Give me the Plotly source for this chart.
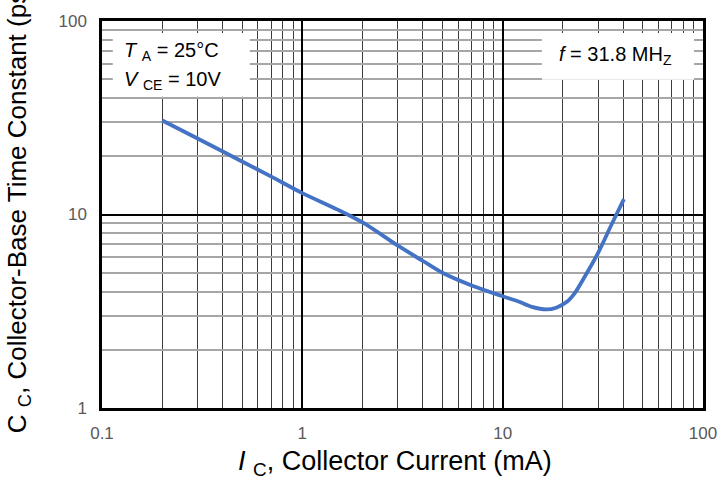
import plotly.graph_objects as go

# Collector current (mA) and collector-base time constant (ps)
ic_ma = [0.2, 0.3, 0.5, 0.7, 1.0, 1.5, 2.0, 3.0, 4.0, 5.0, 7.0, 10.0, 12.0, 14.0, 16.5, 18.5, 21.0, 23.0, 25.0, 30.0, 35.0, 40.3]
cc_ps = [30.6, 24.7, 18.8, 15.7, 12.9, 10.6, 9.1, 6.9, 5.75, 5.0, 4.3, 3.78, 3.55, 3.33, 3.23, 3.3, 3.55, 3.95, 4.55, 6.35, 8.9, 12.0]

x_ticks = [0.1, 1, 10, 100]
x_tick_text = ["0.1", "1", "10", "100"]
y_ticks = [1, 10, 100]
y_tick_text = ["1", "10", "100"]

FONT = "Liberation Sans, Arial, sans-serif"

fig = go.Figure()
fig.add_trace(go.Scatter(
    x=ic_ma, y=cc_ps, mode="lines",
    line=dict(color="#4472C4", width=3.8, shape="spline", smoothing=0.8),
    showlegend=False, hoverinfo="skip"))

fig.update_xaxes(
    type="log", range=[-1, 2], automargin=False,
    tickvals=x_ticks, ticktext=x_tick_text,
    showgrid=True, gridcolor="#000000", gridwidth=2,
    minor=dict(showgrid=True, gridcolor="#3c3c3c", gridwidth=1.2, dtick="D1", ticks=""),
    showline=True, linecolor="#000000", linewidth=2.5, mirror=True,
    ticks="", zeroline=False, ticklabelstandoff=8, ticklabeloverflow="allow",
    tickfont=dict(family=FONT, size=17, color="#595959"),
)
fig.update_yaxes(
    type="log", range=[0, 2], automargin=False,
    tickvals=y_ticks, ticktext=y_tick_text,
    showgrid=True, gridcolor="#000000", gridwidth=2,
    minor=dict(showgrid=True, gridcolor="#a6a6a6", gridwidth=1.6, dtick="D1", ticks=""),
    showline=True, linecolor="#000000", linewidth=2.5, mirror=True,
    ticks="", zeroline=False, ticklabelstandoff=9, ticklabeloverflow="allow",
    tickfont=dict(family=FONT, size=17, color="#595959"),
)

# white label boxes
fig.add_shape(type="rect", xref="paper", yref="paper", x0=0.018, x1=0.246, y0=0.804, y1=0.969,
              fillcolor="#ffffff", line=dict(width=0), layer="above")
fig.add_shape(type="rect", xref="paper", yref="paper", x0=0.732, x1=0.985, y0=0.848, y1=0.969,
              fillcolor="#ffffff", line=dict(width=0), layer="above")

fig.add_annotation(xref="paper", yref="paper", x=0.033, y=0.920, xanchor="left", yanchor="middle",
                   text="<i>T</i> <sub>A</sub> = 25°C", showarrow=False,
                   font=dict(family=FONT, size=20, color="#000000"))
fig.add_annotation(xref="paper", yref="paper", x=0.033, y=0.845, xanchor="left", yanchor="middle",
                   text="<i>V</i> <sub>CE</sub> = 10V", showarrow=False,
                   font=dict(family=FONT, size=20, color="#000000"))
fig.add_annotation(xref="paper", yref="paper", x=0.855, y=0.912, xanchor="center", yanchor="middle",
                   text="<i>f</i> = 31.8 MH<sub>Z</sub>", showarrow=False,
                   font=dict(family=FONT, size=20, color="#000000"))

# axis titles
fig.add_annotation(xref="paper", yref="paper", x=0.487, y=-0.142, xanchor="center", yanchor="middle",
                   text="<i>I</i> <sub>C</sub>, Collector Current (mA)", showarrow=False,
                   font=dict(family=FONT, size=27, color="#000000"))
fig.add_annotation(xref="paper", yref="paper", x=-0.1398, y=0.519, xanchor="center", yanchor="middle",
                   text="C <sub>C</sub>, Collector-Base Time Constant (ps)", showarrow=False,
                   textangle=-90,
                   font=dict(family=FONT, size=26, color="#000000"))

fig.update_layout(
    width=717, height=479,
    margin=dict(l=102, r=14, t=21, b=71),
    paper_bgcolor="#ffffff", plot_bgcolor="#ffffff",
)

fig.write_html("out.html")
